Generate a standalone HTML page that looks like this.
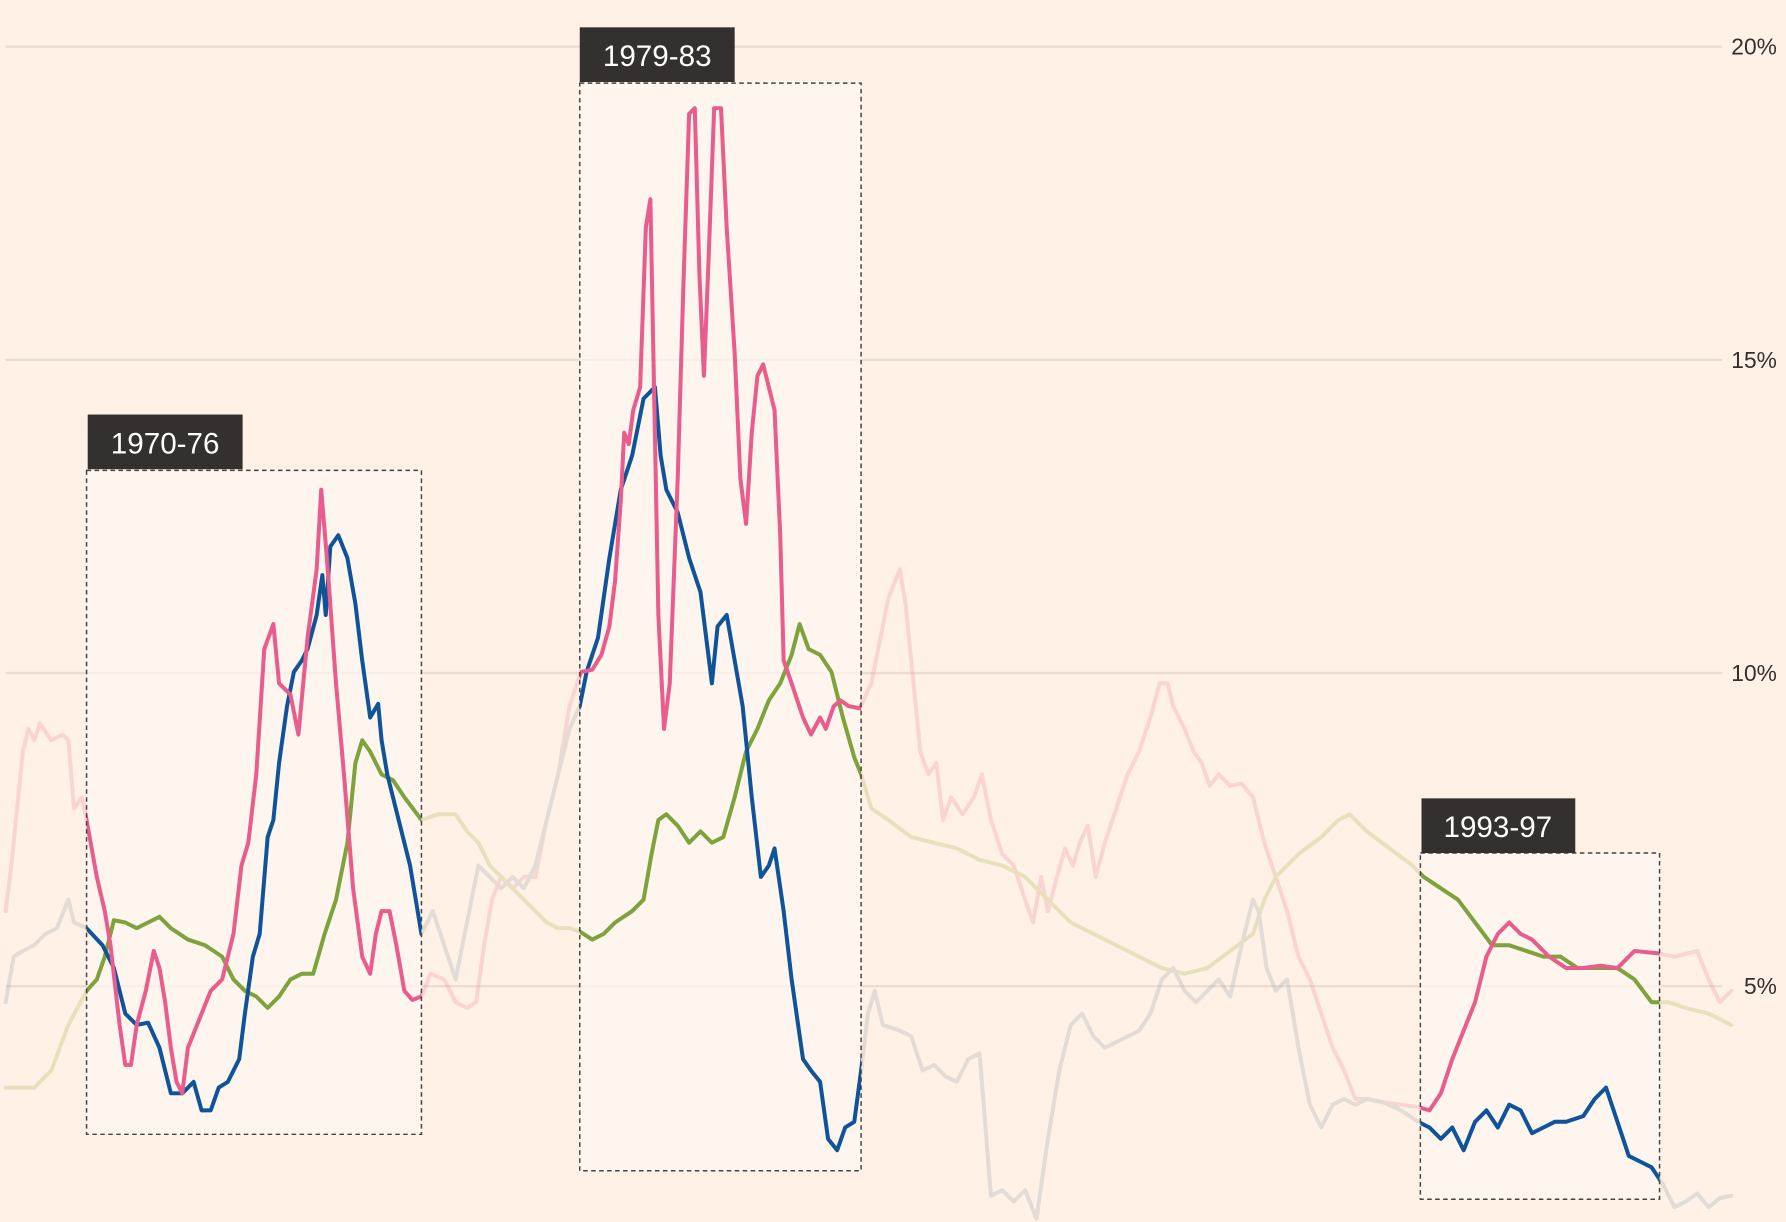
<!DOCTYPE html>
<html><head><meta charset="utf-8"><style>
html,body{margin:0;padding:0;background:#fff1e5;}
svg{display:block;}
text{font-family:"Liberation Sans",sans-serif;}
</style></head><body>
<svg width="1786" height="1222" viewBox="0 0 1568 1073" preserveAspectRatio="none">
<rect width="1568" height="1073" fill="#fff1e5"/>
<defs>
<clipPath id="c"><rect x="76" y="0" width="294" height="1073"/><rect x="509" y="0" width="247" height="1073"/><rect x="1247" y="0" width="210" height="1073"/></clipPath>
<polyline id="p" points="5,800 10,760 20,660 25,640 30,650 35,635 45,650 55,645 60,650 65,710 72,700 76,720 85,770 92,800 97,830 105,900 110,935 115,935 120,900 128,870 135,835 140,850 145,880 150,920 155,950 160,960 165,920 175,895 185,870 195,860 205,820 212,760 218,740 225,680 232,570 240,548 245,600 255,610 262,645 270,560 278,500 282,430 287,490 295,600 302,680 310,780 318,840 325,855 330,820 335,800 342,800 348,830 355,870 362,878 370,875 378,855 390,860 400,880 410,885 418,880 425,830 432,790 440,770 450,780 460,770 470,770 480,720 490,680 500,620 510,590 520,588 528,575 535,550 540,510 545,440 548,380 552,390 556,360 562,340 567,200 571,175 574,330 578,540 583,640 588,600 595,420 600,250 605,100 610,95 614,240 618,330 622,230 627,95 633,95 638,200 645,310 650,420 655,460 660,380 665,330 670,320 675,340 680,360 685,470 688,580 695,600 705,630 712,645 720,630 725,640 732,620 738,615 745,620 755,622 765,600 780,525 790,500 795,530 800,580 808,660 815,680 822,670 828,720 835,700 845,715 855,700 862,680 870,720 880,750 890,760 900,790 907,810 914,770 920,800 928,770 935,745 942,760 948,740 955,725 962,770 970,740 980,710 990,680 1000,660 1010,630 1018,600 1025,600 1030,620 1040,640 1048,660 1055,670 1062,690 1070,680 1080,690 1090,688 1100,700 1110,740 1120,770 1130,800 1140,840 1150,860 1160,890 1170,920 1180,940 1190,965 1200,965 1215,968 1230,970 1245,972 1255,975 1265,960 1275,930 1285,905 1295,880 1305,840 1315,820 1325,810 1335,820 1345,825 1360,840 1375,850 1390,850 1405,848 1420,850 1435,835 1455,837 1470,840 1490,835 1500,860 1510,880 1520,870"/>
<polyline id="g" points="5,955 30,955 45,940 60,900 76,870 85,860 92,840 100,808 110,810 120,815 130,810 140,805 150,815 165,825 180,830 195,840 205,860 215,870 225,875 235,885 245,875 255,860 265,855 275,855 285,820 295,790 305,740 312,670 318,650 325,660 335,680 345,685 355,700 370,720 385,715 400,715 410,730 420,740 430,760 440,770 450,780 460,790 470,800 480,810 490,815 500,815 509,818 520,825 530,820 540,810 555,800 565,790 572,750 578,720 585,715 595,725 605,740 615,730 625,740 635,735 645,700 655,660 665,640 675,615 685,600 695,575 702,548 710,570 720,575 730,590 740,630 750,665 756,680 765,710 780,720 800,735 820,740 840,745 860,755 880,760 900,770 920,790 940,810 960,820 980,830 1000,840 1020,850 1040,855 1060,850 1080,835 1100,820 1110,790 1120,770 1130,760 1140,750 1160,735 1175,720 1185,715 1200,730 1220,745 1240,760 1250,770 1265,780 1280,790 1295,810 1310,830 1325,830 1340,835 1355,840 1370,840 1385,850 1400,850 1420,850 1435,860 1450,880 1465,880 1480,885 1500,890 1520,900"/>
<polyline id="b" points="5,880 12,840 20,835 30,830 40,820 50,815 60,790 65,810 76,815 90,830 100,850 110,890 120,900 130,898 140,920 150,960 160,960 170,950 177,975 185,975 192,955 200,950 210,930 215,890 222,840 228,820 235,735 240,720 245,670 252,620 258,590 265,580 270,570 278,540 283,505 286,540 290,480 297,470 305,490 312,530 318,580 325,630 332,618 335,650 340,680 350,720 360,760 370,820 380,800 390,830 400,860 410,810 420,760 430,770 440,780 450,770 460,780 470,760 480,720 490,680 500,640 509,620 515,590 525,560 535,490 545,430 555,400 565,350 575,340 580,400 585,430 595,450 605,490 615,520 625,600 630,550 638,540 645,580 652,620 660,700 668,770 675,760 680,745 688,800 695,860 705,930 712,940 720,950 727,1000 735,1010 742,990 750,985 756,940 762,890 768,870 775,900 790,905 800,910 810,940 820,935 830,945 840,950 850,930 860,925 870,1050 880,1045 890,1055 900,1045 910,1070 920,1000 930,940 940,900 950,890 960,910 970,920 980,915 990,910 1000,905 1010,890 1020,860 1030,850 1040,870 1050,880 1060,870 1070,860 1080,875 1090,830 1100,790 1105,800 1112,850 1120,870 1130,860 1140,920 1150,970 1160,990 1170,970 1180,965 1190,970 1200,965 1215,968 1230,975 1245,985 1255,990 1265,1000 1275,990 1285,1010 1295,985 1305,975 1315,990 1325,970 1335,975 1345,995 1355,990 1365,985 1375,985 1390,980 1400,965 1410,955 1420,985 1430,1015 1440,1020 1450,1025 1460,1040 1470,1060 1480,1055 1490,1048 1500,1060 1510,1052 1520,1050"/>
</defs>
<g stroke="#ecdccf" stroke-width="2">
<line x1="5" y1="41" x2="1512" y2="41"/><line x1="5" y1="316" x2="1512" y2="316"/><line x1="5" y1="591" x2="1512" y2="591"/><line x1="5" y1="866" x2="1512" y2="866"/>
</g>
<g fill="#33302e" font-size="20" text-anchor="end">
<text x="1560" y="48">20%</text><text x="1560" y="323">15%</text><text x="1560" y="598">10%</text><text x="1560" y="873">5%</text>
</g>
<g fill="#fdf6f1" fill-opacity="0.75">
<rect x="76" y="413" width="294" height="583"/><rect x="509" y="73" width="247" height="955"/><rect x="1247" y="749" width="210" height="304"/>
</g>
<g fill="none" stroke-width="3.5" stroke-linejoin="round" stroke-linecap="round">
<g opacity="0.28">
<use href="#p" stroke="#f08aa8"/>
<use href="#g" stroke="#a9bb55"/>
<use href="#b" stroke="#98a4b2"/>
</g>
<g clip-path="url(#c)">
<use href="#g" stroke="#7ea33d"/>
<use href="#b" stroke="#0f5499"/>
<use href="#p" stroke="#e95d8c"/>
</g>
</g>
<g fill="none" stroke="#444" stroke-width="1.3" stroke-dasharray="4,3">
<rect x="76" y="413" width="294" height="583"/><rect x="509" y="73" width="247" height="955"/><rect x="1247" y="749" width="210" height="304"/>
</g>
<g fill="#33302e">
<rect x="77" y="364" width="136" height="48"/><rect x="509" y="24" width="136" height="48"/><rect x="1248" y="701" width="135" height="48"/>
</g>
<g fill="#fff" font-size="26" text-anchor="middle">
<text x="145" y="398">1970-76</text><text x="577" y="58">1979-83</text><text x="1315" y="735">1993-97</text>
</g>
</svg>
</body></html>
